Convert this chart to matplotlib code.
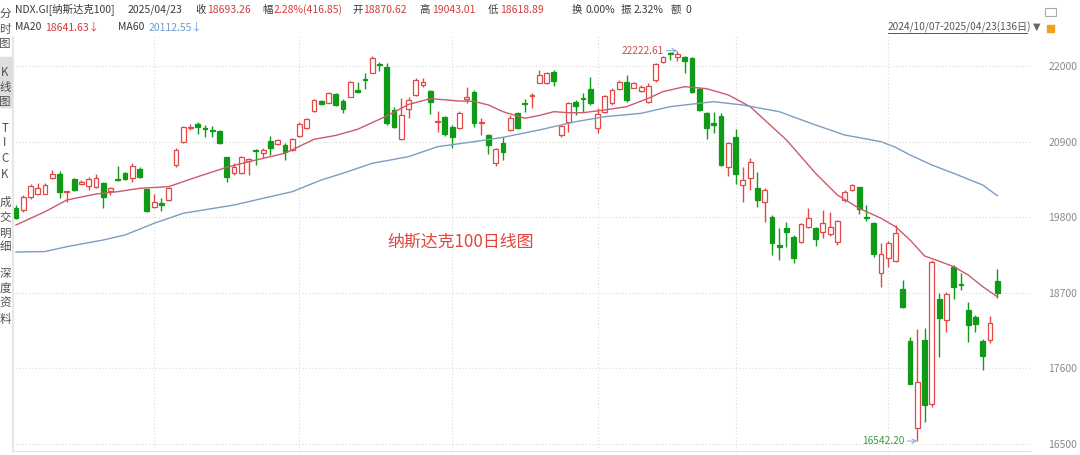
import matplotlib
matplotlib.use("Agg")
import matplotlib.pyplot as plt
from matplotlib.lines import Line2D
from matplotlib.patches import Rectangle
import numpy as np

plt.rcParams["font.family"] = ["Noto Sans CJK SC", "DejaVu Sans"]

# ── data: NDX daily candles 2024/10/07 - 2025/04/23 (136 trading days) ──
opens = [19938, 19904, 20098, 20142, 20142, 20366, 20428, 20162, 20356, 20287,
         20258, 20244, 20293, 20185, 20356, 20447, 20374, 20501, 20206, 19953,
         20011, 20050, 20559, 20889, 21098, 21160, 21102, 21069, 21054, 20671,
         20447, 20438, 20620, 20777, 20729, 20913, 20865, 20850, 20778, 20981,
         21093, 21350, 21490, 21466, 21587, 21495, 21553, 21651, 21806, 21902,
         22029, 21990, 21359, 20933, 21370, 21578, 21723, 21636, 21185, 21253,
         21117, 21102, 21515, 21626, 21166, 20996, 20584, 20884, 21069, 21320,
         21466, 21563, 21757, 21748, 21917, 20996, 21189, 21472, 21530, 21660,
         21093, 21335, 21457, 21661, 21771, 21684, 21636, 21480, 21796, 22062,
         22184, 22126, 22135, 22112, 21660, 21320, 21166, 21272, 20535, 20971,
         20268, 20366, 20220, 20016, 19807, 19395, 19647, 19516, 19443, 19662,
         19647, 19580, 19551, 19443, 20050, 20196, 20235, 19807, 19711, 18983,
         19202, 19162, 18755, 17998, 16737, 18013, 17077, 18605, 18300, 19080,
         18828, 18450, 18352, 18003, 18013, 18870.62]
highs = [19977, 20123, 20278, 20293, 20293, 20487, 20472, 20185, 20366, 20341,
         20389, 20424, 20307, 20244, 20549, 20462, 20593, 20535, 20206, 20142,
         20075, 20244, 20802, 21131, 21151, 21181, 21141, 21127, 21069, 20680,
         20593, 20690, 20660, 20797, 20802, 20981, 20942, 20875, 20948, 21189,
         21248, 21515, 21505, 21626, 21611, 21515, 21786, 21772, 21893, 22145,
         22062, 22039, 21408, 21530, 21544, 21821, 21821, 21651, 21345, 21272,
         21141, 21345, 21699, 21651, 21239, 21011, 20802, 20962, 21287, 21335,
         21515, 21611, 21942, 21917, 21942, 21141, 21481, 21505, 21611, 21844,
         21384, 21578, 21675, 21796, 21869, 21771, 21723, 21748, 22048, 22145,
         22200, 22222.61, 22145, 22126, 21699, 21335, 21335, 21320, 20898, 21079,
         20535, 20657, 20462, 20220, 19832, 19643, 19734, 19541, 19711, 19929,
         19662, 19905, 19871, 19759, 20196, 20283, 20244, 19977, 19734, 19420,
         19453, 19686, 18886, 18061, 18173, 18183, 19177, 18692, 18707, 19104,
         18983, 18570, 18377, 18028, 18367, 19043.01]
lows = [19774, 19880, 20065, 20123, 20133, 20356, 20075, 20025, 20185, 20268,
        20196, 20229, 19938, 20123, 20327, 20341, 20307, 20374, 19871, 19938,
        19890, 20036, 20535, 20875, 21064, 21006, 20967, 20962, 20865, 20316,
        20414, 20428, 20415, 20560, 20657, 20705, 20850, 20632, 20767, 20971,
        21079, 21335, 21432, 21457, 21418, 21311, 21544, 21611, 21661, 21893,
        21931, 21141, 21093, 20923, 21239, 21563, 21699, 21301, 21044, 20981,
        20811, 21079, 21457, 21108, 20996, 20719, 20545, 20632, 21054, 21079,
        21335, 21384, 21748, 21738, 21709, 20971, 21044, 21287, 21335, 21432,
        21020, 21311, 21432, 21651, 21481, 21675, 21617, 21457, 21771, 22039,
        22087, 22077, 21893, 21611, 21350, 20933, 21020, 20545, 20399, 20283,
        20025, 20196, 19953, 19734, 19250, 19177, 19370, 19138, 19420, 19638,
        19385, 19493, 19531, 19395, 20025, 20181, 19842, 19744, 19225, 18789,
        19080, 19143, 18483, 17368, 16542.20, 16815, 17043, 17770, 18134, 18610,
        18741, 17988, 18125, 17577, 17965, 18618.89]
closes = [19792, 20098, 20258, 20229, 20268, 20428, 20162, 20181, 20196, 20307,
          20351, 20374, 20098, 20220, 20337, 20351, 20549, 20389, 19890, 20025,
          19977, 20229, 20778, 21108, 21117, 21112, 21087, 21054, 20884, 20389,
          20535, 20671, 20640, 20763, 20778, 20802, 20923, 20753, 20933, 21156,
          21224, 21505, 21442, 21611, 21432, 21369, 21772, 21626, 21792, 22112,
          22010, 21175, 21108, 21287, 21505, 21796, 21772, 21480, 21204, 21010,
          20971, 21320, 21553, 21175, 21180, 20850, 20788, 20753, 21239, 21093,
          21447, 21578, 21869, 21893, 21786, 21127, 21457, 21422, 21515, 21457,
          21301, 21563, 21651, 21771, 21505, 21748, 21699, 21713, 22029, 22126,
          22170, 22174, 22077, 21626, 21360, 21093, 21141, 20559, 20875, 20428,
          20341, 20608, 20050, 20196, 19420, 19370, 19580, 19202, 19696, 19793,
          19483, 19711, 19653, 19744, 20171, 20268, 19919, 19784, 19260, 19264,
          19420, 19565, 18498, 17368, 17397, 17067, 19144, 18329, 18678, 18789,
          18813, 18231, 18241, 17780, 18256, 18693.26]

# moving averages at sample days
ma20_idx = [0, 4, 7, 11, 14, 17, 21, 25, 29, 32, 37, 41, 44, 47, 51, 54, 57, 61,
            63, 65, 67, 70, 72, 74, 76, 78, 81, 84, 87, 89, 92, 95, 98, 101, 106,
            110, 113, 116, 119, 121, 123, 125, 127, 129, 131, 133, 135]
ma20_val = [19686, 19880, 20050, 20137, 20171, 20220, 20244, 20389, 20526, 20607,
            20730, 20933, 20990, 21079, 21272, 21440, 21525, 21490, 21485, 21432,
            21335, 21239, 21280, 21335, 21320, 21320, 21360, 21408, 21530, 21626,
            21699, 21670, 21578, 21408, 20923, 20438, 20123, 19929, 19784, 19662,
            19468, 19235, 19160, 19080, 18959, 18789, 18641.63]
ma60_idx = [0, 4, 7, 12, 15, 19, 23, 30, 34, 38, 42, 45, 49, 54, 58, 63, 67, 72,
            77, 81, 86, 90, 94, 96, 100, 105, 110, 114, 119, 121, 123, 126, 129,
            133, 135]
ma60_val = [19293, 19300, 19371, 19468, 19541, 19711, 19857, 19977, 20075, 20171,
            20341, 20440, 20584, 20680, 20826, 20898, 20962, 21069, 21189, 21262,
            21311, 21408, 21457, 21480, 21432, 21335, 21141, 20996, 20898, 20817,
            20705, 20559, 20438, 20268, 20112.55]

yticks = [22000, 20900, 19800, 18700, 17600, 16500]
month_starts = [19, 39, 60, 80, 99, 120]

RED = "#e34848"
GREEN = "#0f9a18"
W, H = 1080, 455


def fx(px):
    return px / W


def fy(py):
    return 1 - py / H


fig = plt.figure(figsize=(10.8, 4.55), dpi=100)
ax = fig.add_axes([fx(12), fy(451), fx(1030) - fx(12), fy(36) - fy(451)])

o = np.array(opens, float)
h = np.array(highs, float)
l = np.array(lows, float)
c = np.array(closes, float)
x = np.arange(len(c))
up = c >= o
cols = np.where(up, RED, GREEN)

ax.vlines(x, l, h, colors=cols, linewidth=1.0, zorder=2)
bottom = np.minimum(o, c)
height = np.maximum(np.abs(c - o), 12)
ax.bar(x, height, bottom=bottom, width=0.66,
       color=np.where(up, "white", GREEN), edgecolor=cols, linewidth=0.9, zorder=3)

ax.plot(ma20_idx, ma20_val, color="#cc5a6c", linewidth=1.0, zorder=4)
ax.plot(ma60_idx, ma60_val, color="#7c9dc2", linewidth=1.0, zorder=4)

ax.set_xlim(-0.55, 139.5)
ax.set_ylim(16398, 22436)
ax.set_xticks(month_starts)
ax.set_xticklabels([])
ax.set_yticks(yticks)
ax.yaxis.tick_right()
ax.tick_params(axis="both", length=0)
ax.tick_params(axis="y", labelsize=7.5, labelcolor="#8a8a8a", pad=13)
ax.grid(True, color="#d9d9d9", linestyle=(0, (1, 2)), linewidth=0.8)
for s in ["top", "right"]:
    ax.spines[s].set_visible(False)
for s in ["left", "bottom"]:
    ax.spines[s].set_color("#e6e6e6")

# high / low markers
hi = int(np.argmax(h))
lo = int(np.argmin(l))
ax.annotate(f"{h[hi]:.2f}", xy=(hi, h[hi]), xytext=(-10, 0), textcoords="offset points",
            ha="right", va="center", fontsize=7.3, color="#c65050",
            arrowprops=dict(arrowstyle="->", color="#8db3d8", lw=0.8, shrinkA=0, shrinkB=0))
ax.annotate(f"{l[lo]:.2f}", xy=(lo, l[lo]), xytext=(-9, 0), textcoords="offset points",
            ha="right", va="center", fontsize=7.3, color="#3c9a3c",
            arrowprops=dict(arrowstyle="->", color="#8db3d8", lw=0.8, shrinkA=0, shrinkB=0))

ax.text(0.369, 0.505, "纳斯达克100日线图", transform=ax.transAxes,
        fontsize=12.2, color="#e0463c", ha="left", va="center")

# ── header lines ──
DARK = "#3a3a3a"
VAL = "#d43c3c"
hdr = [(15, "NDX.GI[纳斯达克100]", DARK), (128, "2025/04/23", DARK),
       (195, "收", DARK), (207, "18693.26", VAL), (262, "幅", DARK),
       (274, "2.28%(416.85)", VAL), (352, "开", DARK), (363, "18870.62", VAL),
       (419, "高", DARK), (432, "19043.01", VAL), (488, "低", DARK),
       (500, "18618.89", VAL), (572, "换", DARK), (585, "0.00%", DARK),
       (621, "振", DARK), (634, "2.32%", DARK), (671, "额", DARK), (685, "0", DARK)]
for px, txt, col in hdr:
    fig.text(fx(px), fy(10), txt, fontsize=7.5, color=col, ha="left", va="center")

fig.text(fx(15), fy(27), "MA20", fontsize=7.5, color=DARK, ha="left", va="center")
fig.text(fx(45), fy(27), "18641.63↓", fontsize=7.5, color=VAL, ha="left", va="center")
fig.text(fx(118), fy(27), "MA60", fontsize=7.5, color=DARK, ha="left", va="center")
fig.text(fx(149), fy(27), "20112.55↓", fontsize=7.5, color="#6d9ad0", ha="left", va="center")

fig.text(fx(888), fy(27), "2024/10/07-2025/04/23(136日)", fontsize=7.3,
         color="#555555", ha="left", va="center")
fig.add_artist(Line2D([fx(888), fx(1027)], [fy(33), fy(33)], color="#555555", lw=0.7))
fig.text(fx(1037), fy(27), "▼", fontsize=7, color="#666666", ha="center", va="center",
         family=["DejaVu Sans"])
fig.add_artist(Rectangle((fx(1047), fy(32)), fx(7), fy(25) - fy(32), color="#f0a020"))
fig.add_artist(Rectangle((fx(1045), fy(16)), fx(11), fy(8) - fy(16),
                         facecolor="none", edgecolor="#aaaaaa", lw=0.8))

# ── left side bar ──
fig.add_artist(Rectangle((0, fy(107)), fx(12), fy(57) - fy(107), color="#dedede"))
fig.add_artist(Line2D([fx(12.5), fx(12.5)], [fy(36), fy(451)], color="#e6e6e6", lw=0.8))
side = [(13, "分"), (29, "时"), (44, "图"), (72, "K"), (87, "线"), (102, "图"),
        (128, "T"), (143, "I"), (158, "C"), (174, "K"), (202, "成"), (217, "交"),
        (233, "明"), (247, "细"), (273, "深"), (288, "度"), (303, "资"), (319, "料")]
for py, ch in side:
    fig.text(fx(5), fy(py), ch, fontsize=8.3, color="#505050", ha="center", va="center")

fig.savefig("out.png", dpi=100)
